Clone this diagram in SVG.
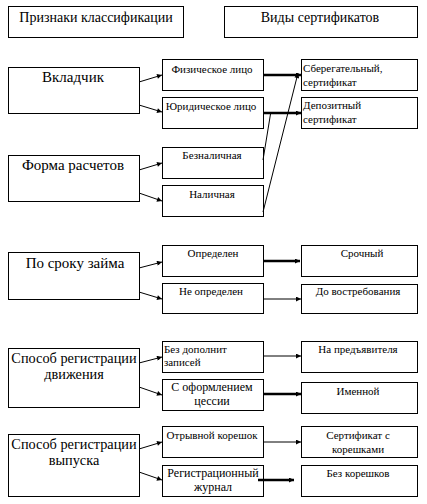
<svg xmlns="http://www.w3.org/2000/svg" width="427" height="504" viewBox="0 0 427 504" font-family="'Liberation Serif', 'DejaVu Serif', serif">
<style>
rect{fill:#fff;stroke:#000;stroke-width:1}
text{font-family:'Liberation Serif','DejaVu Serif',serif;fill:#000}
.h{font-size:14px;text-anchor:middle}
.m{font-size:15px;text-anchor:middle}
.m2{font-size:14.3px;text-anchor:middle}
.s{font-size:11px;text-anchor:middle}
.l{font-size:11px}
.c line{stroke:#000;stroke-width:1}
.c .t{stroke-width:2.5}
</style>
<defs>
<marker id="a" viewBox="0 0 10 10" refX="10" refY="5" markerWidth="6" markerHeight="5" markerUnits="userSpaceOnUse" orient="auto"><path d="M0,0L10,5L0,10z" fill="#000"/></marker>
</defs>
<rect width="427" height="504" style="stroke:none"/>
<g id="hdr1"><rect x="8.5" y="6.5" width="175" height="31"/><text class="h" x="96" y="22">Признаки классификации</text></g>
<g id="hdr2"><rect x="224.5" y="6.5" width="193" height="31"/><text class="h" x="320" y="22">Виды сертификатов</text></g>

<g id="n1"><rect x="8.5" y="67.5" width="131" height="46"/><text class="m" x="73" y="82">Вкладчик</text></g>
<g id="n1a"><rect x="162.5" y="59.5" width="101" height="31"/><text class="s" x="212" y="73">Физическое лицо</text></g>
<g id="n1b"><rect x="162.5" y="97.5" width="101" height="31"/><text class="s" x="211" y="110">Юридическое лицо</text></g>
<g id="r1a"><rect x="301.5" y="59.5" width="116" height="31"/><text class="l" x="303" y="72">Сберегательный,</text><text class="l" x="303" y="86">сертификат</text></g>
<g id="r1b"><rect x="301.5" y="97.5" width="116" height="31"/><text class="l" x="303" y="109">Депозитный</text><text class="l" x="303" y="123">сертификат</text></g>

<g id="n2"><rect x="8.5" y="155.5" width="131" height="46"/><text class="m" x="73" y="170">Форма расчетов</text></g>
<g id="n2a"><rect x="162.5" y="147.5" width="101" height="31"/><text class="s" x="212" y="159">Безналичная</text></g>
<g id="n2b"><rect x="162.5" y="185.5" width="101" height="31"/><text class="s" x="212" y="198">Наличная</text></g>

<g id="n3"><rect x="8.5" y="252.5" width="131" height="47"/><text class="m" x="75" y="268">По сроку займа</text></g>
<g id="n3a"><rect x="162.5" y="245.5" width="101" height="31"/><text class="s" x="213" y="257">Определен</text></g>
<g id="n3b"><rect x="162.5" y="283.5" width="101" height="30"/><text class="s" x="211" y="295">Не определен</text></g>
<g id="r3a"><rect x="301.5" y="245.5" width="116" height="31"/><text class="s" x="362" y="257">Срочный</text></g>
<g id="r3b"><rect x="301.5" y="284.5" width="116" height="29"/><text class="s" x="358" y="295">До востребования</text></g>

<g id="n4"><rect x="8.5" y="348.5" width="131" height="59"/><text class="m2" x="74" y="363">Способ регистрации</text><text class="m2" x="74" y="379">движения</text></g>
<g id="n4a"><rect x="162.5" y="341.5" width="101" height="31"/><text class="l" x="164" y="353">Без дополнит</text><text class="l" x="164" y="366">записей</text></g>
<g id="n4b"><rect x="162.5" y="379.5" width="101" height="31"/><text class="s" x="212" y="391" style="font-size:12px">С оформлением</text><text class="s" x="212" y="405" style="font-size:12px">цессии</text></g>
<g id="r4a"><rect x="301.5" y="341.5" width="116" height="31"/><text class="s" x="358" y="353">На предъявителя</text></g>
<g id="r4b"><rect x="301.5" y="382.5" width="116" height="31"/><text class="s" x="358" y="395">Именной</text></g>

<g id="n5"><rect x="8.5" y="434.5" width="131" height="62"/><text class="m2" x="74" y="449">Способ регистрации</text><text class="m2" x="74" y="465">выпуска</text></g>
<g id="n5a"><rect x="162.5" y="426.5" width="101" height="31"/><text class="s" x="212" y="439">Отрывной корешок</text></g>
<g id="n5b"><rect x="162.5" y="465.5" width="101" height="31"/><text class="s" x="213" y="477" style="font-size:12px">Регистрационный</text><text class="s" x="213" y="491" style="font-size:12px">журнал</text></g>
<g id="r5a"><rect x="301.5" y="426.5" width="116" height="31"/><text class="s" x="358" y="439">Сертификат с</text><text class="s" x="358" y="453">корешками</text></g>
<g id="r5b"><rect x="301.5" y="465.5" width="116" height="31"/><text class="s" x="358" y="477">Без корешков</text></g>

<g id="connectors" class="c">
<line x1="139" y1="82" x2="162" y2="75" marker-end="url(#a)"/>
<line x1="139" y1="105" x2="162" y2="112" marker-end="url(#a)"/>
<line class="t" x1="263" y1="75" x2="301" y2="75" marker-end="url(#a)"/>
<line class="t" x1="263" y1="113" x2="301" y2="113" marker-end="url(#a)"/>
<line x1="263" y1="160" x2="270.5" y2="114"/>
<line x1="263" y1="212" x2="298" y2="73" marker-end="url(#a)"/>
<line x1="139" y1="170" x2="162" y2="163" marker-end="url(#a)"/>
<line x1="139" y1="193" x2="162" y2="201" marker-end="url(#a)"/>
<line x1="139" y1="268" x2="162" y2="262" marker-end="url(#a)"/>
<line x1="139" y1="292" x2="162" y2="299" marker-end="url(#a)"/>
<line class="t" x1="263" y1="261" x2="300" y2="261" marker-end="url(#a)"/>
<line x1="263" y1="299" x2="301" y2="299" marker-end="url(#a)"/>
<line x1="139" y1="363" x2="162" y2="357" marker-end="url(#a)"/>
<line x1="139" y1="387" x2="162" y2="395" marker-end="url(#a)"/>
<line x1="263" y1="356" x2="301" y2="356" marker-end="url(#a)"/>
<line class="t" x1="263" y1="394" x2="301" y2="394" marker-end="url(#a)"/>
<line x1="139" y1="449" x2="162" y2="442" marker-end="url(#a)"/>
<line x1="139" y1="472" x2="162" y2="480" marker-end="url(#a)"/>
<line x1="263" y1="442" x2="301" y2="442" marker-end="url(#a)"/>
<line class="t" x1="258" y1="480" x2="294" y2="480" marker-end="url(#a)"/>
</g>
</svg>
